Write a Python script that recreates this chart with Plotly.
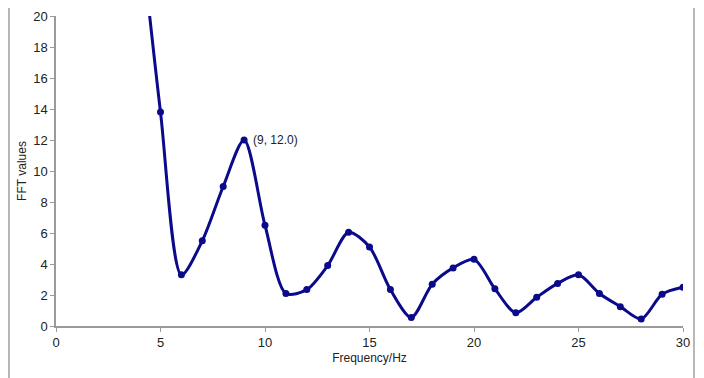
import plotly.graph_objects as go

freq = [4, 5, 6, 7, 8, 9, 10, 11, 12, 13, 14, 15, 16, 17, 18, 19, 20, 21, 22, 23, 24, 25, 26, 27, 28, 29, 30]
fft_values = [26.0, 13.8, 3.3, 5.5, 9.0, 12.0, 6.5, 2.1, 2.35, 3.9, 6.05, 5.1, 2.35, 0.55, 2.7, 3.75, 4.3, 2.4, 0.85, 1.85, 2.75, 3.3, 2.1, 1.25, 0.45, 2.05, 2.5]
x_ticks = [0, 5, 10, 15, 20, 25, 30]
y_ticks = [0, 2, 4, 6, 8, 10, 12, 14, 16, 18, 20]
peak_x, peak_y = 9, 12.0

color = "#0a0a8a"
fig = go.Figure()
fig.add_trace(go.Scatter(
    x=freq, y=fft_values, mode="lines+markers",
    line=dict(color=color, width=3, shape="spline", smoothing=0.8),
    marker=dict(color=color, size=7),
    cliponaxis=True, showlegend=False,
))
fig.add_annotation(x=peak_x, y=peak_y, text=f"({peak_x}, {peak_y:.1f})", showarrow=False,
                   xanchor="left", yanchor="middle", xshift=7,
                   font=dict(family="Liberation Sans, Arial", size=12, color="#222"))

axis_common = dict(showgrid=False, zeroline=False, showline=True, linecolor="#9a9a9a", linewidth=1.5,
                   ticks="outside", ticklen=4, tickcolor="#9a9a9a", automargin=False,
                   tickfont=dict(family="Liberation Sans, Arial", size=13, color="#222"))
fig.update_xaxes(range=[0, 30], tickvals=x_ticks, title=dict(text="Frequency/Hz", font=dict(size=12, color="#222"), standoff=4), **axis_common)
fig.update_yaxes(range=[0, 20], tickvals=y_ticks, title=dict(text="FFT values", font=dict(size=12, color="#222"), standoff=4), **axis_common)

# outer frame (left and right)
for xp in [-0.075, 1.0175]:
    fig.add_shape(type="line", xref="paper", yref="paper", x0=xp, x1=xp, y0=-0.168, y1=1.026,
                  line=dict(color="#a0a0a0", width=1.5))

fig.update_layout(
    width=696, height=370,
    margin=dict(l=48, r=21, t=8, b=52, autoexpand=False),
    plot_bgcolor="white", paper_bgcolor="white",
    font=dict(family="Liberation Sans, Arial", color="#222"),
)
fig.write_html("out.html")
